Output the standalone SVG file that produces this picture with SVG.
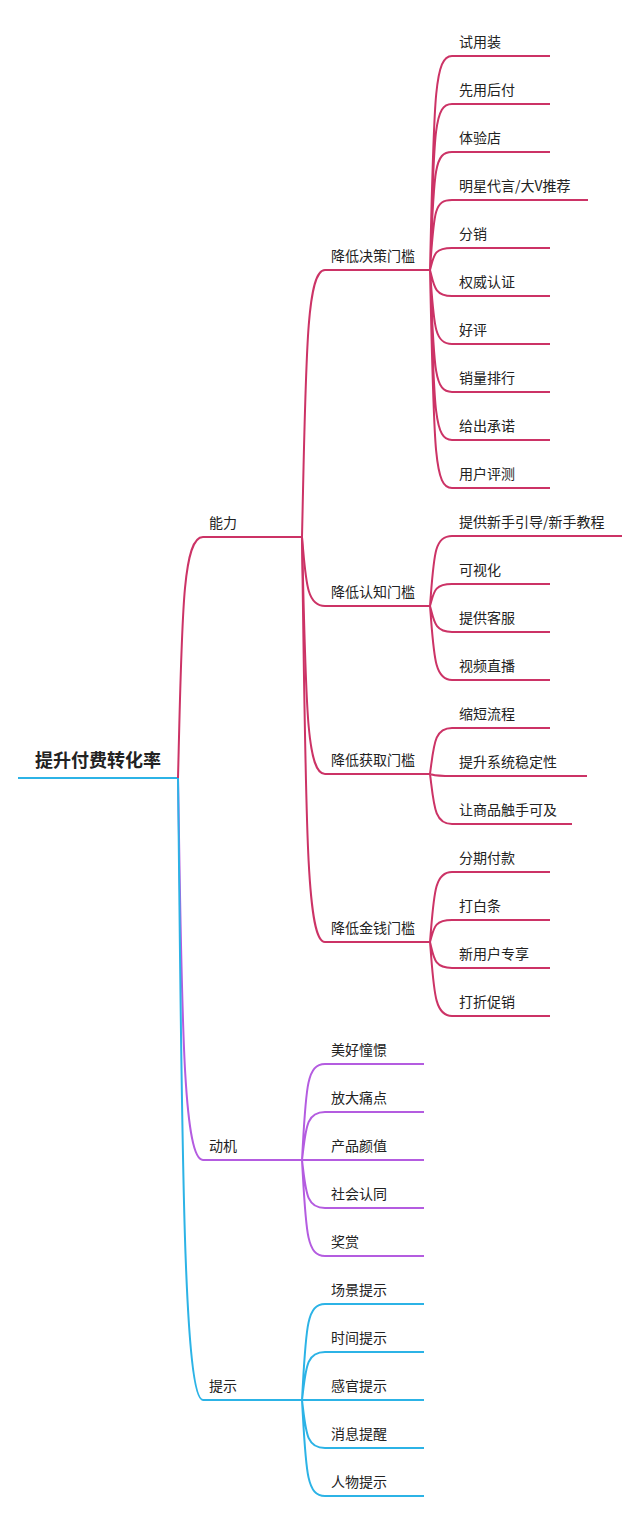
<svg xmlns="http://www.w3.org/2000/svg" width="640" height="1515" viewBox="0 0 640 1515">
<style>
text{font-family:"Noto Sans CJK SC","Noto Sans",sans-serif;font-size:14px;fill:#222}
.root{font-size:18px;font-weight:bold}
.r{stroke:#cc3366;stroke-width:2;fill:none}
.p{stroke:#b45ce0;stroke-width:2;fill:none}
.b{stroke:#2cb3e6;stroke-width:2;fill:none}
</style>
<rect width="640" height="1515" fill="#fff"/>
<g id="connectors">
<path class="b" d="M18 778H178"/>
<path class="r" d="M178 778C182 620 182 537 203 537H302"/>
<path class="p" d="M178 778C182 1000 182 1160 203 1160H302"/>
<path class="b" d="M178 778C182 1100 182 1400 203 1400H302"/>
<path class="r" d="M302 537C306 360 306 270 325 270H430"/>
<path class="r" d="M302 537C306 580 306 606 325 606H430"/>
<path class="r" d="M302 537C306 700 306 774 325 774H430"/>
<path class="r" d="M302 537C306 820 306 942 325 942H430"/>
<path class="r" d="M430 270C434 100 434 56 452 56H550M430 270C434 130 434 104 452 104H550M430 270C434 170 434 152 452 152H550M430 270C434 212 434 200 452 200H588M430 270C434 255 434 248 452 248H550M430 270C434 285 434 296 452 296H550M430 270C434 325 434 344 452 344H550M430 270C434 370 434 392 452 392H550M430 270C434 410 434 440 452 440H550M430 270C434 450 434 488 452 488H550"/>
<path class="r" d="M430 606C434 555 434 536 452 536H622M430 606C434 592 434 584 452 584H550M430 606C434 620 434 632 452 632H550M430 606C434 655 434 680 452 680H550"/>
<path class="r" d="M430 774C434 745 434 728 452 728H550M430 774C434 775 434 776 452 776H587M430 774C434 805 434 824 452 824H572"/>
<path class="r" d="M430 942C434 895 434 872 452 872H550M430 942C434 928 434 920 452 920H550M430 942C434 958 434 968 452 968H550M430 942C434 990 434 1016 452 1016H550"/>
<path class="p" d="M302 1160C306 1090 306 1064 325 1064H424M302 1160C306 1128 306 1112 325 1112H424M302 1160H424M302 1160C306 1192 306 1208 325 1208H424M302 1160C306 1230 306 1256 325 1256H424"/>
<path class="b" d="M302 1400C306 1330 306 1304 325 1304H424M302 1400C306 1368 306 1352 325 1352H424M302 1400H424M302 1400C306 1432 306 1448 325 1448H424M302 1400C306 1470 306 1496 325 1496H424"/>
</g>
<g id="root"><text class="root" x="35" y="767">提升付费转化率</text></g>
<g id="n1"><text x="209" y="528">能力</text></g>
<g id="n2"><text x="209" y="1151">动机</text></g>
<g id="n3"><text x="209" y="1391">提示</text></g>
<g id="m1"><text x="331" y="261">降低决策门槛</text></g>
<g id="m2"><text x="331" y="597">降低认知门槛</text></g>
<g id="m3"><text x="331" y="765">降低获取门槛</text></g>
<g id="m4"><text x="331" y="933">降低金钱门槛</text></g>
<g id="leaves">
<text x="459" y="47">试用装</text>
<text x="459" y="95">先用后付</text>
<text x="459" y="143">体验店</text>
<text x="459" y="191">明星代言/大V推荐</text>
<text x="459" y="239">分销</text>
<text x="459" y="287">权威认证</text>
<text x="459" y="335">好评</text>
<text x="459" y="383">销量排行</text>
<text x="459" y="431">给出承诺</text>
<text x="459" y="479">用户评测</text>
<text x="459" y="527">提供新手引导/新手教程</text>
<text x="459" y="575">可视化</text>
<text x="459" y="623">提供客服</text>
<text x="459" y="671">视频直播</text>
<text x="459" y="719">缩短流程</text>
<text x="459" y="767">提升系统稳定性</text>
<text x="459" y="815">让商品触手可及</text>
<text x="459" y="863">分期付款</text>
<text x="459" y="911">打白条</text>
<text x="459" y="959">新用户专享</text>
<text x="459" y="1007">打折促销</text>
<text x="331" y="1055">美好憧憬</text>
<text x="331" y="1103">放大痛点</text>
<text x="331" y="1151">产品颜值</text>
<text x="331" y="1199">社会认同</text>
<text x="331" y="1247">奖赏</text>
<text x="331" y="1295">场景提示</text>
<text x="331" y="1343">时间提示</text>
<text x="331" y="1391">感官提示</text>
<text x="331" y="1439">消息提醒</text>
<text x="331" y="1487">人物提示</text>
</g>
</svg>
